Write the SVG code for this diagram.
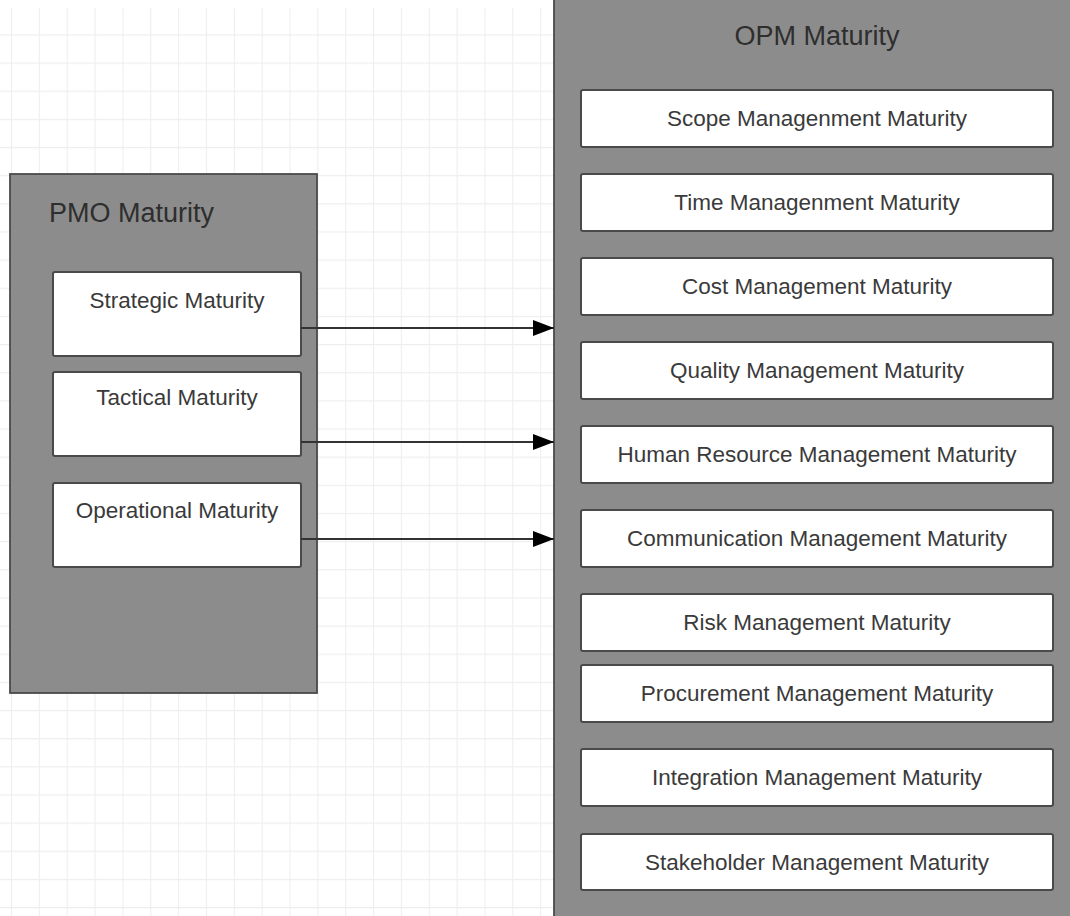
<svg xmlns="http://www.w3.org/2000/svg" width="1070" height="916" viewBox="0 0 1070 916">
  <defs>
    <pattern id="grid" patternUnits="userSpaceOnUse" x="11" y="6.2" width="27.85" height="28.15">
      <path d="M0.5 0 V28.15 M0 0.5 H27.85" fill="none" stroke="#eeeeee" stroke-width="1.2"/>
    </pattern>
    <marker id="arrow" markerUnits="userSpaceOnUse" markerWidth="22" markerHeight="16" refX="21" refY="8" orient="auto">
      <path d="M0 0 L21 8 L0 16 Z" fill="#000"/>
    </marker>
  </defs>
  <style>
    .container { fill: #8c8c8c; stroke: #4a4a4a; stroke-width: 1.8; }
    .item { fill: #ffffff; stroke: #4a4a4a; stroke-width: 2; }
    .title { font-family: "Liberation Sans", Arial, sans-serif; font-size: 27px; fill: #2e2e2e; }
    .label { font-family: "Liberation Sans", Arial, sans-serif; font-size: 22.5px; fill: #3a3a3a; text-anchor: middle; }
    .conn { stroke: #333333; stroke-width: 2; fill: none; }
  </style>
  <rect x="0" y="0" width="1070" height="916" fill="#ffffff"/>
  <rect x="0" y="8" width="1070" height="908" fill="url(#grid)"/>

  <g id="opm-maturity">
    <rect class="container" x="554" y="-10" width="530" height="940"/>
    <text class="title" x="817" y="45" text-anchor="middle">OPM Maturity</text>
  </g>
  <g id="scope">
    <rect class="item" x="581" y="90" width="472" height="57" rx="2"/>
    <text class="label" x="817" y="126">Scope Managenment Maturity</text>
  </g>
  <g id="time">
    <rect class="item" x="581" y="174" width="472" height="57" rx="2"/>
    <text class="label" x="817" y="210">Time Managenment Maturity</text>
  </g>
  <g id="cost">
    <rect class="item" x="581" y="258" width="472" height="57" rx="2"/>
    <text class="label" x="817" y="294">Cost Management Maturity</text>
  </g>
  <g id="quality">
    <rect class="item" x="581" y="342" width="472" height="57" rx="2"/>
    <text class="label" x="817" y="378">Quality Management Maturity</text>
  </g>
  <g id="human-resource">
    <rect class="item" x="581" y="426" width="472" height="57" rx="2"/>
    <text class="label" x="817" y="462">Human Resource Management Maturity</text>
  </g>
  <g id="communication">
    <rect class="item" x="581" y="510" width="472" height="57" rx="2"/>
    <text class="label" x="817" y="546">Communication Management Maturity</text>
  </g>
  <g id="risk">
    <rect class="item" x="581" y="594" width="472" height="57" rx="2" stroke-width="2.6"/>
    <text class="label" x="817" y="630">Risk Management Maturity</text>
  </g>
  <g id="procurement">
    <rect class="item" x="581" y="665" width="472" height="57" rx="2"/>
    <text class="label" x="817" y="701">Procurement Management Maturity</text>
  </g>
  <g id="integration">
    <rect class="item" x="581" y="749" width="472" height="57" rx="2"/>
    <text class="label" x="817" y="785">Integration Management Maturity</text>
  </g>
  <g id="stakeholder">
    <rect class="item" x="581" y="834" width="472" height="56" rx="2"/>
    <text class="label" x="817" y="870">Stakeholder Management Maturity</text>
  </g>

  <g id="pmo-maturity">
    <rect class="container" x="10" y="174" width="307" height="519"/>
    <text class="title" x="49" y="222">PMO Maturity</text>
  </g>
  <g id="strategic">
    <rect class="item" x="53" y="272" width="248" height="84" rx="2"/>
    <text class="label" x="177" y="308">Strategic Maturity</text>
  </g>
  <g id="tactical">
    <rect class="item" x="53" y="372" width="248" height="84" rx="2"/>
    <text class="label" x="177" y="405">Tactical Maturity</text>
  </g>
  <g id="operational">
    <rect class="item" x="53" y="483" width="248" height="84" rx="2"/>
    <text class="label" x="177" y="518">Operational Maturity</text>
  </g>

  <g id="connectors">
    <line class="conn" x1="301" y1="328" x2="554" y2="328" marker-end="url(#arrow)"/>
    <line class="conn" x1="301" y1="442" x2="554" y2="442" marker-end="url(#arrow)"/>
    <line class="conn" x1="301" y1="539" x2="554" y2="539" marker-end="url(#arrow)"/>
  </g>
</svg>
